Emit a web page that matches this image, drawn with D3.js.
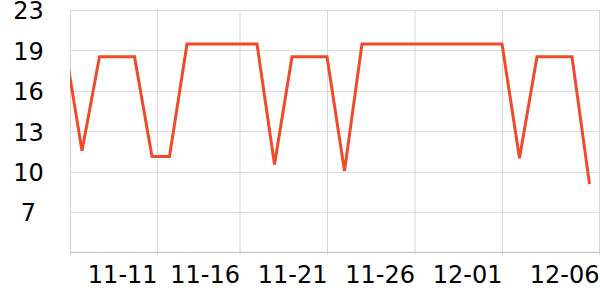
<!DOCTYPE html>
<meta charset="utf-8">
<style>
  body { margin: 0; background: #fff; }
  svg text { font-family: "DejaVu Sans", sans-serif; }
</style>
<svg width="600" height="300"></svg>
<script src="https://d3js.org/d3.v7.min.js"></script>
<script>

// one value per day, 11-06 .. 12-06
var days = ["11-06", "11-07", "11-08", "11-09", "11-10", "11-11", "11-12", "11-13",
            "11-14", "11-15", "11-16", "11-17", "11-18", "11-19", "11-20", "11-21",
            "11-22", "11-23", "11-24", "11-25", "11-26", "11-27", "11-28", "11-29",
            "11-30", "12-01", "12-02", "12-03", "12-04", "12-05", "12-06"];
var values = [19.9, 11.45, 18.9, 18.9, 18.9, 11.0, 11.0, 19.9,
              19.9, 19.9, 19.9, 19.9, 10.35, 18.9, 18.9, 18.9,
              9.85, 19.9, 19.9, 19.9, 19.9, 19.9, 19.9, 19.9,
              19.9, 19.9, 10.85, 18.9, 18.9, 18.9, 8.8];

var xTickTimes = ["11-11T07", "11-16T00", "11-21T00", "11-26T00", "12-01T00", "12-06T13"];
var xTickLabels = ["11-11", "11-16", "11-21", "11-26", "12-01", "12-06"];

var yTickValues = [22.6, 19.4, 16.2, 13.0, 9.8, 6.6];
var yTickLabels = ["23", "19", "16", "13", "10", "7"];

var svg = d3.select("svg"),
    width = +svg.attr("width"),
    height = +svg.attr("height");

// note: "top" is taken by window.top, hence the prefix
var plotLeft = 70, plotRight = 600, plotTop = 10, plotBottom = 252.3;

var parseDay = d3.utcParse("%m-%d"),
    parseTick = d3.utcParse("%m-%dT%H");

var data = days.map(function(d, i) { return { date: parseDay(d), value: values[i] }; });

var x = d3.scaleUtc()
    .domain(d3.extent(data, function(d) { return d.date; }))
    .range([64.5, 589.5]);

var y = d3.scaleLinear()
    .domain([3.4, 22.6])
    .range([plotBottom, plotTop]);

svg.append("rect")
    .attr("width", width)
    .attr("height", height)
    .attr("fill", "#fff");

// horizontal grid
svg.append("g")
  .selectAll("line")
  .data(yTickValues)
  .enter().append("line")
    .attr("x1", plotLeft)
    .attr("x2", plotRight)
    .attr("y1", function(d) { return Math.round(y(d)) + 0.5; })
    .attr("y2", function(d) { return Math.round(y(d)) + 0.5; })
    .attr("stroke", "#dcdcdc");

// y labels
svg.append("g")
  .selectAll("text")
  .data(yTickValues)
  .enter().append("text")
    .attr("x", 28.5)
    .attr("y", function(d) { return y(d); })
    .attr("dy", "0.39em")
    .attr("text-anchor", "middle")
    .attr("font-size", 24)
    .attr("fill", "#000")
    .text(function(d, i) { return yTickLabels[i]; });

// left edge line
svg.append("line")
    .attr("x1", plotLeft + 0.5)
    .attr("x2", plotLeft + 0.5)
    .attr("y1", plotTop)
    .attr("y2", plotBottom + 2.5)
    .attr("stroke", "#d4d4d4");

// x axis with grid lines
var xAxis = svg.append("g")
    .attr("transform", "translate(0," + plotBottom + ")")
    .call(d3.axisBottom(x)
        .tickValues(xTickTimes.map(parseTick))
        .tickSizeInner(-(plotBottom - plotTop))
        .tickSizeOuter(0)
        .tickFormat(function(d, i) { return xTickLabels[i]; }));

xAxis.select(".domain").remove();

xAxis.selectAll(".tick line")
    .attr("y1", 2.5)
    .attr("stroke", "#d8d8d8");

xAxis.selectAll(".tick text")
    .attr("font-family", "DejaVu Sans, sans-serif")
    .attr("font-size", 24)
    .attr("fill", "#000")
    .attr("text-anchor", "end")
    .attr("x", 0)
    .attr("y", 30.5)
    .attr("dy", 0);

svg.append("line")
    .attr("x1", plotLeft)
    .attr("x2", plotRight)
    .attr("y1", plotBottom)
    .attr("y2", plotBottom)
    .attr("stroke", "#b8b8b8");

svg.append("clipPath")
    .attr("id", "plot")
  .append("rect")
    .attr("x", plotLeft)
    .attr("y", 0)
    .attr("width", plotRight - plotLeft)
    .attr("height", plotBottom);

var line = d3.line()
    .x(function(d) { return x(d.date); })
    .y(function(d) { return y(d.value); });

svg.append("path")
    .datum(data)
    .attr("clip-path", "url(#plot)")
    .attr("fill", "none")
    .attr("stroke", "#ee4b2b")
    .attr("stroke-width", 3)
    .attr("d", line);

</script>
